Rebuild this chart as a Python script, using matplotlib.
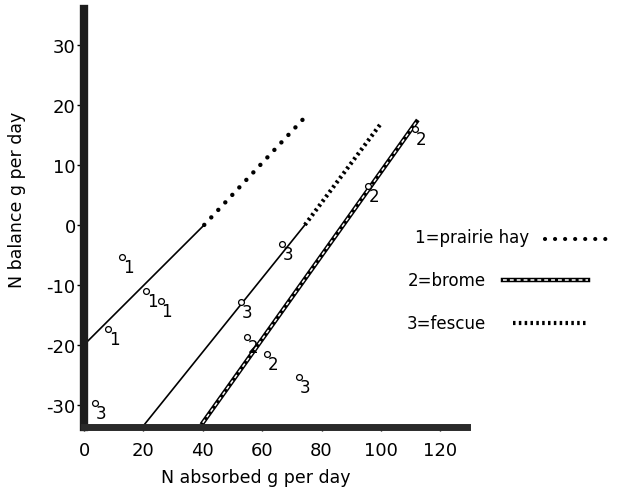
import matplotlib.pyplot as plt
from matplotlib.lines import Line2D

# observed points (N absorbed, N balance), g per day
hay_x = [12.8, 8.1, 20.9, 25.9]
hay_y = [-5.3, -17.3, -11.0, -12.7]
brome_x = [54.9, 61.6, 95.6, 111.4]
brome_y = [-18.7, -21.5, 6.5, 16.0]
fescue_x = [3.7, 53.0, 66.7, 72.4]
fescue_y = [-29.7, -12.8, -3.2, -25.3]

# fitted lines: solid part then extrapolated part
hay_fit_x = [0, 40.5, 74.5]
hay_fit_y = [-20, 0, 18]
brome_fit_x = [40, 112]
brome_fit_y = [-33, 17.2]
fescue_fit_x = [20, 74.4, 99.7]
fescue_fit_y = [-33.5, 0, 16.7]

legend_labels = ["1=prairie hay", "2=brome", "3=fescue"]

plt.rcParams['font.family'] = 'DejaVu Sans'
plt.rcParams['axes.unicode_minus'] = False

W, H = 623, 489
fig = plt.figure(figsize=(W / 100, H / 100), dpi=100)


def px(x, y):
    return (x / W, 1 - y / H)


ax = fig.add_axes([84 / W, (H - 428) / H, (467 - 84) / W, (428 - 10) / H])
ax.set_xlim(0, 129)
ax.set_ylim(-33.7, 36)

dotted = dict(color='black', lw=3.2, linestyle=(0, (0.01, 2.3)), dash_capstyle='round')
fine_dots = dict(color='black', lw=3.0, linestyle=(0, (0.6, 0.8)), dash_capstyle='butt')

# prairie hay
ax.plot(hay_fit_x[:2], hay_fit_y[:2], color='black', lw=1.2)
ax.plot(hay_fit_x[1:], hay_fit_y[1:], **dotted)
# fescue
ax.plot(fescue_fit_x[:2], fescue_fit_y[:2], color='black', lw=1.2)
ax.plot(fescue_fit_x[1:], fescue_fit_y[1:], **fine_dots)
# brome: double line with white dashes
ax.plot(brome_fit_x, brome_fit_y, color='black', lw=3.2)
ax.plot(brome_fit_x, brome_fit_y, color='white', lw=1.1, linestyle=(0, (2.5, 2)))

for xs, ys, lab in [(hay_x, hay_y, '1'), (brome_x, brome_y, '2'), (fescue_x, fescue_y, '3')]:
    ax.plot(xs, ys, 'o', ms=4.2, mfc='white', mec='black', mew=0.9, zorder=5)
    for x, y in zip(xs, ys):
        ax.annotate(lab, (x, y), xytext=(6, -10), textcoords='offset pixels',
                    ha='center', va='center', fontsize=12)

# heavy hand-drawn axes
for side in ['top', 'right']:
    ax.spines[side].set_visible(False)
ax.spines['left'].set_linewidth(6)
ax.spines['bottom'].set_linewidth(5)
ax.spines['left'].set_color('#1c1c1c')
ax.spines['bottom'].set_color('#2a2a2a')

ax.set_xticks([0, 20, 40, 60, 80, 100, 120])
ax.set_yticks([-30, -20, -10, 0, 10, 20, 30])
ax.tick_params(axis='y', length=5, width=1, pad=1, labelsize=13)
ax.tick_params(axis='x', length=3, width=1, pad=7, labelsize=13)

ax.set_xlabel("N absorbed g per day", fontsize=12.5)
ax.set_ylabel("N balance g per day", fontsize=12.5)
ax.xaxis.set_label_coords(0.449, -0.098)
ax.yaxis.set_label_coords(-0.152, 0.545)

# legend drawn by hand: label then line sample
fig.text(*px(415, 238), legend_labels[0], fontsize=12, va='center')
fig.add_artist(Line2D([px(545, 0)[0], px(615, 0)[0]], [px(0, 240)[1]] * 2,
                      transform=fig.transFigure, color='black', lw=3,
                      linestyle=(0, (0.01, 2.4)), dash_capstyle='round'))
fig.text(*px(408, 281), legend_labels[1], fontsize=12, va='center')
fig.add_artist(Line2D([px(503, 0)[0], px(588, 0)[0]], [px(0, 281)[1]] * 2,
                      transform=fig.transFigure, color='black', lw=3.2))
fig.add_artist(Line2D([px(503, 0)[0], px(588, 0)[0]], [px(0, 281)[1]] * 2,
                      transform=fig.transFigure, color='white', lw=1.1,
                      linestyle=(0, (2.5, 2))))
fig.text(*px(407, 324), legend_labels[2], fontsize=12, va='center')
fig.add_artist(Line2D([px(513, 0)[0], px(587, 0)[0]], [px(0, 324)[1]] * 2,
                      transform=fig.transFigure, color='black', lw=3.0,
                      linestyle=(0, (0.6, 0.8))))

fig.savefig('out.png', dpi=100)
